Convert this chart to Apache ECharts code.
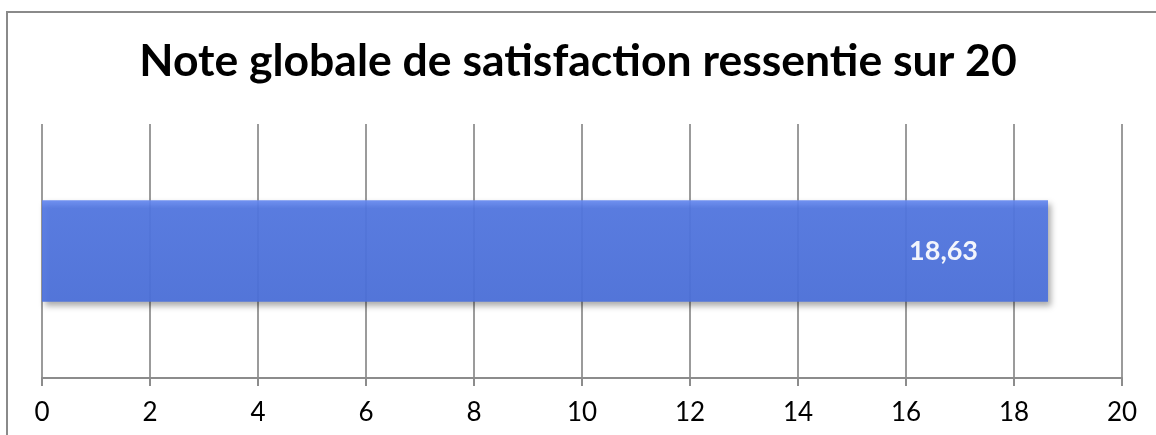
<!DOCTYPE html>
<html>
<head>
<meta charset="utf-8">
<script src="https://cdn.jsdelivr.net/npm/echarts@6/dist/echarts.min.js"></script>
<style>
  html, body { margin: 0; padding: 0; background: #fff; overflow: hidden; }
  #frame { position: absolute; left: 6px; top: 11px; width: 1200px; height: 500px;
           border-top: 2px solid #8a8a8a; border-left: 2px solid #8a8a8a; }
  #chart { position: absolute; left: 0; top: 0; width: 1156px; height: 435px; }
</style>
</head>
<body>
<div id="frame"></div>
<div id="chart"></div>
<script>
const titleText = 'Note globale de satisfaction ressentie sur 20';
const categories = ['Note globale'];
const scores = [18.63];
const tickMin = 0;
const tickMax = 20;
const tickStep = 2;

const chart = echarts.init(document.getElementById('chart'), null, { renderer: 'canvas' });

chart.setOption({
  animation: false,
  title: {
    text: titleText,
    left: 'center',
    top: 31,
    textStyle: { fontFamily: 'Lato', fontWeight: 'bold', fontSize: 44.5, color: '#000', lineHeight: 52 },
  },
  grid: { left: 42, right: 34, top: 124, bottom: 57, containLabel: false },
  xAxis: {
    type: 'value',
    min: tickMin,
    max: tickMax,
    interval: tickStep,
    axisLine: { show: true, lineStyle: { color: '#8c8c8c', width: 2 } },
    axisTick: { show: true, length: 8, lineStyle: { color: '#8c8c8c', width: 2 } },
    axisLabel: { margin: 22, fontFamily: 'Lato', fontSize: 26, color: '#000' },
    splitLine: { show: true, lineStyle: { color: '#7a7a7a', width: 1.5 } },
  },
  yAxis: {
    type: 'category',
    data: categories,
    axisLine: { show: false },
    axisTick: { show: false },
    axisLabel: { show: false },
  },
  series: [{
    type: 'bar',
    data: scores,
    barWidth: '40%',
    itemStyle: {
      opacity: 0.93,
      color: new echarts.graphic.LinearGradient(0, 0, 0, 1, [
        { offset: 0, color: '#6689f0' },
        { offset: 0.08, color: '#5378e3' },
        { offset: 1, color: '#4c71dc' },
      ]),
      shadowColor: 'rgba(0,0,0,0.35)',
      shadowBlur: 6,
      shadowOffsetX: 3,
      shadowOffsetY: 4,
    },
    label: {
      show: true,
      position: 'insideRight',
      distance: 70,
      fontFamily: 'Lato',
      fontWeight: 'bold',
      fontSize: 27,
      color: '#fff',
      formatter: (p) => String(p.value).replace('.', ','),
    },
  }],
});
</script>
</body>
</html>
